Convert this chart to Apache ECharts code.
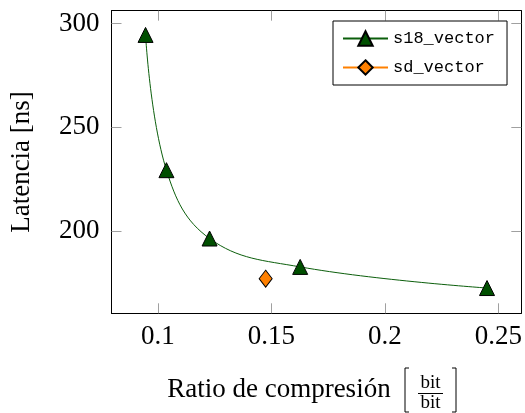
<!DOCTYPE html>
<html>
<head>
<meta charset="utf-8">
<script src="https://cdn.jsdelivr.net/npm/echarts@6/dist/echarts.min.js"></script>
<style>
  html, body { margin: 0; padding: 0; background: #fff; }
  #chart { width: 525px; height: 413px; }
</style>
</head>
<body>
<div id="chart"></div>
<script>
// datos
var s18X = [0.0946, 0.1038, 0.1228, 0.1627, 0.245];
var s18Y = [294.6, 229.3, 196.3, 182.6, 172.4];
var sdX = [0.1475];
var sdY = [176.9];
var xTicks = [0.1, 0.15, 0.2, 0.25];
var yTicks = [200, 250, 300];

var serif = 'Liberation Serif';
var tickColor = '#a0a0a0';

function pairs(xs, ys) {
    var out = [];
    for (var i = 0; i < xs.length; i++) {
        out.push([xs[i], ys[i]]);
    }
    return out;
}

var myChart = echarts.init(document.getElementById('chart'));

var xBase = {
    type: 'value',
    min: 0.0796,
    max: 0.2601,
    axisLine: { lineStyle: { color: '#000', width: 1 } },
    axisTick: { inside: true, length: 10, customValues: xTicks, lineStyle: { color: tickColor } },
    splitLine: { show: false }
};
var yBase = {
    type: 'value',
    min: 160.2,
    max: 306.3,
    axisLine: { show: true, lineStyle: { color: '#000', width: 1 } },
    axisTick: { show: true, inside: true, length: 10, customValues: yTicks, lineStyle: { color: tickColor } },
    splitLine: { show: false }
};

var option = {
    animation: false,
    grid: { left: 111.5, right: 3, top: 10.7, bottom: 99.7, containLabel: false },
    legend: {
        orient: 'vertical',
        left: 333,
        top: 21,
        padding: [9, 12, 9, 9],
        itemWidth: 45,
        itemHeight: 18,
        itemGap: 12,
        borderColor: '#000',
        borderWidth: 1,
        borderRadius: 0,
        textStyle: { fontFamily: 'Liberation Mono', fontSize: 17, color: '#000' },
        data: ['s18_vector', 'sd_vector']
    },
    xAxis: [
        Object.assign({}, xBase, {
            position: 'bottom',
            name: 'Ratio de compresión',
            nameLocation: 'middle',
            nameGap: 63,
            nameTextStyle: { fontFamily: serif, fontSize: 27, color: '#000', padding: [0, 75, 0, 0] },
            axisLabel: { customValues: xTicks, margin: 10, fontFamily: serif, fontSize: 27, color: '#000' }
        }),
        Object.assign({}, xBase, {
            position: 'top',
            axisLabel: { show: false }
        })
    ],
    yAxis: [
        Object.assign({}, yBase, {
            position: 'left',
            name: 'Latencia [ns]',
            nameLocation: 'middle',
            nameGap: 76,
            nameTextStyle: { fontFamily: serif, fontSize: 27, color: '#000' },
            axisLabel: { customValues: yTicks, margin: 12, fontFamily: serif, fontSize: 27, color: '#000' }
        }),
        Object.assign({}, yBase, {
            position: 'right',
            axisLabel: { show: false }
        })
    ],
    graphic: [
        // corchetes y fraccion de la unidad
        { type: 'polyline', shape: { points: [[409, 368], [405, 368], [405, 412], [409, 412]] },
          style: { stroke: '#000', lineWidth: 1, fill: null } },
        { type: 'polyline', shape: { points: [[452, 368], [456, 368], [456, 412], [452, 412]] },
          style: { stroke: '#000', lineWidth: 1, fill: null } },
        { type: 'text', style: { text: 'bit', x: 430.5, y: 383, align: 'center', verticalAlign: 'middle',
          fontFamily: serif, fontSize: 19, fill: '#000' } },
        { type: 'line', shape: { x1: 418, y1: 393.5, x2: 443, y2: 393.5 }, style: { stroke: '#000', lineWidth: 1 } },
        { type: 'text', style: { text: 'bit', x: 430.5, y: 403, align: 'center', verticalAlign: 'middle',
          fontFamily: serif, fontSize: 19, fill: '#000' } }
    ],
    series: [
        {
            name: 's18_vector',
            type: 'line',
            data: pairs(s18X, s18Y),
            smooth: 0.4,
            symbol: 'triangle',
            symbolSize: 15,
            lineStyle: { color: '#0b5e0b', width: 1 },
            itemStyle: { color: '#004f00', borderColor: '#000', borderWidth: 1 },
            z: 3
        },
        {
            name: 'sd_vector',
            type: 'line',
            data: pairs(sdX, sdY),
            symbol: 'diamond',
            symbolSize: [13, 17],
            lineStyle: { color: '#ff8000', width: 1 },
            itemStyle: { color: '#ff8000', borderColor: '#000', borderWidth: 1 },
            z: 2
        }
    ]
};

myChart.setOption(option);
</script>
</body>
</html>
